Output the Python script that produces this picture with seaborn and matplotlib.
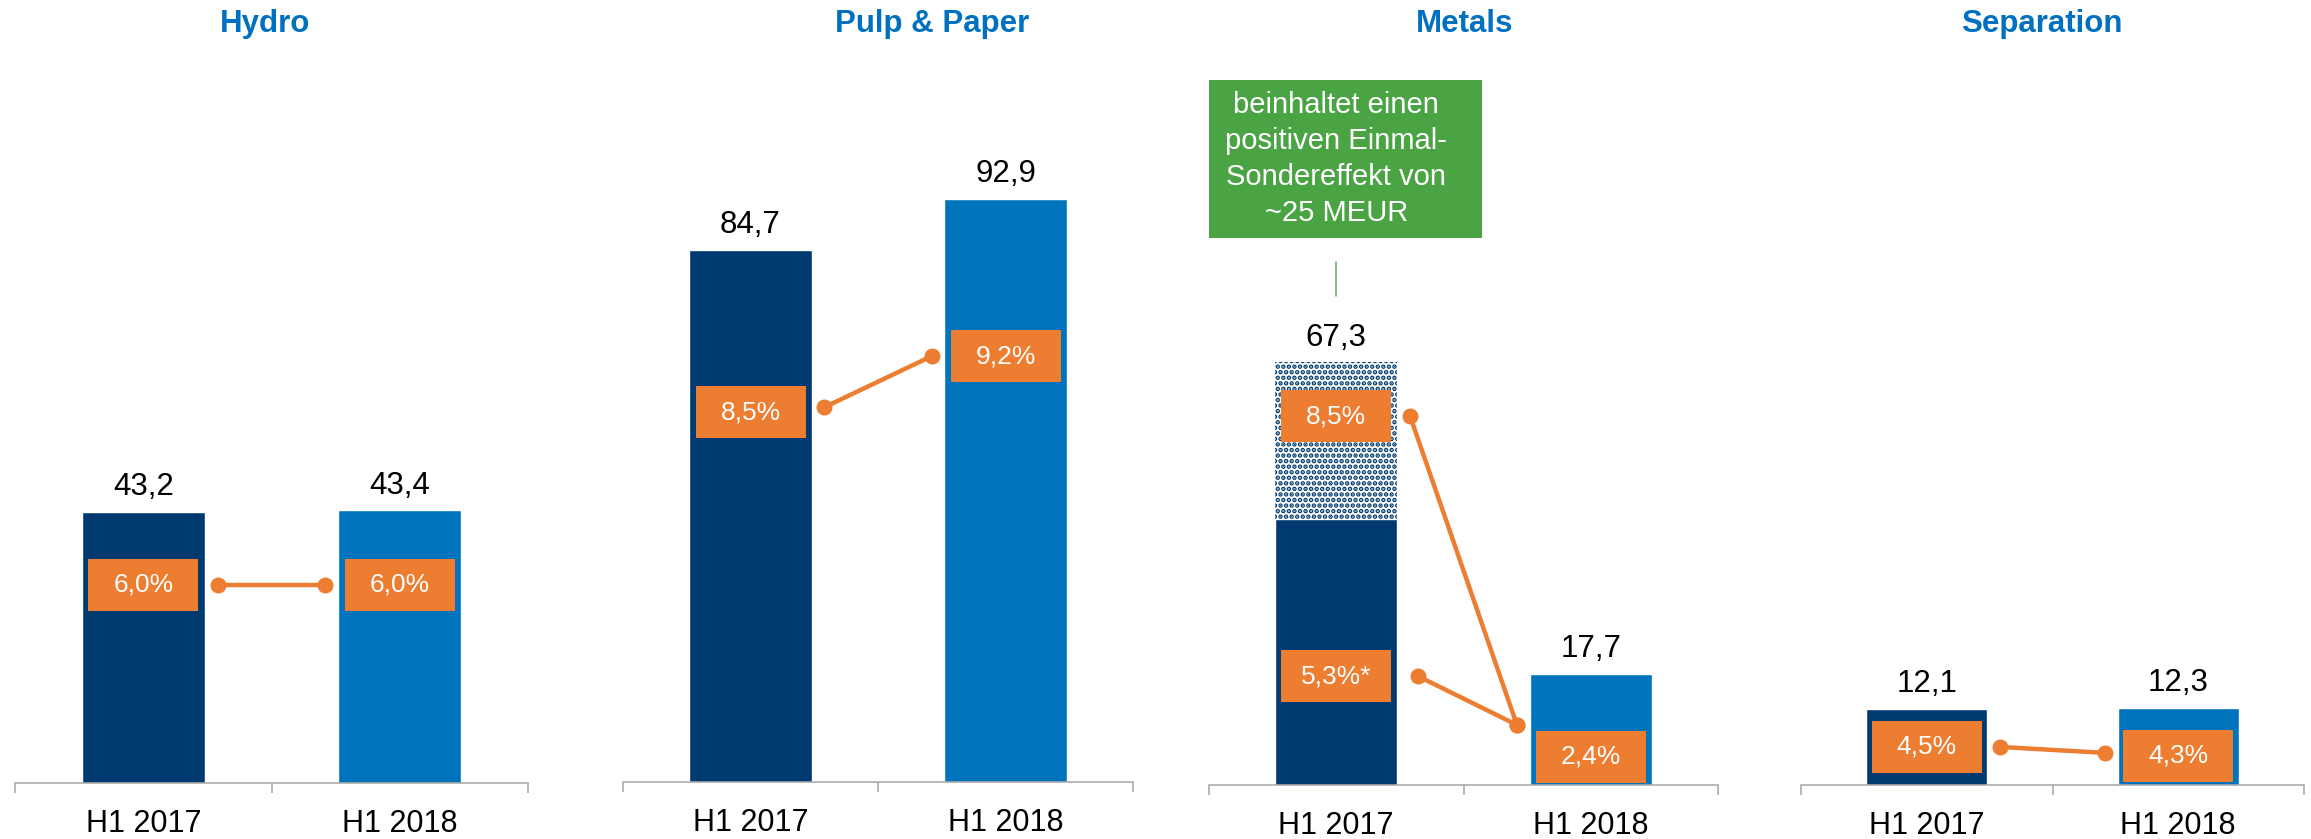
import matplotlib
matplotlib.use("Agg")
import matplotlib.pyplot as plt
import matplotlib.transforms as mtransforms
from matplotlib.patches import Rectangle
import seaborn as sns
import pandas as pd

# Daten (EBITA in MEUR, Marge in %)
segments = ["Hydro", "Pulp & Paper", "Metals", "Separation"]
periods = ["H1 2017", "H1 2018"]
ebita_2017 = [43.2, 84.7, 67.3, 12.1]
ebita_2018 = [43.4, 92.9, 17.7, 12.3]
one_off_2017 = [0.0, 0.0, 25.0, 0.0]
margin_2017 = [6.0, 8.5, 8.5, 4.5]
margin_2018 = [6.0, 9.2, 2.4, 4.3]
margin_2017_adj = [None, None, 5.3, None]
note_text = "beinhaltet einen\npositiven Einmal-\nSondereffekt von\n~25 MEUR"

# Farben
NAVY = "#003A70"
BLUE = "#0073BD"
ORANGE = "#ED7D31"
GREEN = "#4BA443"
TITLE_BLUE = "#0070C0"
GRAY = "#A6A6A6"

# Layout in Pixel
W, H, DPI = 2311, 839, 100
panel_x = [(15, 528), (623, 1133), (1209, 1718), (1801, 2304)]
panel_base = [783, 782, 785, 785]
title_x = [265, 932, 1465, 2042]
top_px = 60
px_per_unit = 6.28
margin_lims = [(0, 21.9), (3.35, 13.27), (1.215, 15.53), (3.23, 27.4)]
adj_lim = (-1.157, 41.8)
box_shift = [(0, 0), (5, 0), (0, 32), (0, 3)]  # orange boxes, px nach unten
bar_w = 0.48


def fmt(v):
    return f"{v:.1f}".replace(".", ",")


sns.set_theme(style="white")
plt.rcParams["font.family"] = ["Liberation Sans", "DejaVu Sans"]
plt.rcParams["hatch.linewidth"] = 2.3

fig = plt.figure(figsize=(W / DPI, H / DPI), dpi=DPI)


def orange_box(tw, xpos, val, text, shift):
    trans = fig.dpi_scale_trans + mtransforms.ScaledTranslation(xpos, val, tw.transData)
    s = shift / DPI
    rect = Rectangle((-0.55, -0.26 - s), 1.10, 0.52, transform=trans,
                     facecolor=ORANGE, linewidth=0, zorder=3)
    tw.add_artist(rect)
    tw.text(0, -s, text, transform=trans, ha="center", va="center",
            fontsize=19, color="white", zorder=4)


for i, seg in enumerate(segments):
    l, r = panel_x[i]
    b = panel_base[i]
    ax = fig.add_axes([l / W, 1 - b / H, (r - l) / W, (b - top_px) / H])

    solid = ebita_2017[i] - one_off_2017[i]
    df = pd.DataFrame({"period": periods, "ebita": [solid, ebita_2018[i]]})
    sns.barplot(data=df, x="period", y="ebita", hue="period",
                palette=[NAVY, BLUE], width=bar_w, saturation=1,
                legend=False, ax=ax)

    if one_off_2017[i] > 0:
        ax.bar(0, one_off_2017[i], bottom=solid, width=bar_w, color="white",
               edgecolor=NAVY, hatch="...", linewidth=0)

    ax.set_xlim(-0.5, 1.5)
    ax.set_ylim(0, (b - top_px) / px_per_unit)
    ax.set_xlabel("")
    ax.set_ylabel("")
    ax.set_yticks([])
    ax.set_xticks([-0.5, 0.5, 1.5])
    ax.set_xticklabels([])
    ax.set_xticks([0, 1], labels=periods, minor=True)
    ax.tick_params(axis="x", which="both", bottom=True)
    ax.tick_params(axis="x", which="major", length=7.2, width=1.1,
                   color=GRAY, direction="out")
    ax.tick_params(axis="x", which="minor", length=0, pad=18.5,
                   labelsize=22, labelcolor="black")
    sns.despine(ax=ax, left=True)
    ax.spines["bottom"].set_color(GRAY)
    ax.spines["bottom"].set_linewidth(1.1)

    # Wertelabels
    for j, total in enumerate([ebita_2017[i], ebita_2018[i]]):
        ax.annotate(fmt(total), (j, total), xytext=(0, 12),
                    textcoords="offset points", ha="center", va="baseline",
                    fontsize=22.5, color="black")

    # Marge
    tw = ax.twinx()
    tw.set_ylim(margin_lims[i])
    tw.axis("off")
    x0 = bar_w / 2 + 0.05
    x1 = 1 - bar_w / 2 - 0.05
    tw.plot([x0, x1], [margin_2017[i], margin_2018[i]], color=ORANGE,
            lw=3.2, marker="o", ms=10.5, zorder=2)
    orange_box(tw, 0, margin_2017[i], fmt(margin_2017[i]) + "%", box_shift[i][0])
    orange_box(tw, 1, margin_2018[i], fmt(margin_2018[i]) + "%", box_shift[i][1])

    if margin_2017_adj[i] is not None:
        tw2 = ax.twinx()
        tw2.set_ylim(adj_lim)
        tw2.axis("off")
        tw2.plot([x0 + 0.03, x1], [margin_2017_adj[i], margin_2018[i]],
                 color=ORANGE, lw=3.2, marker="o", ms=10.5, zorder=2)
        orange_box(tw2, 0, margin_2017_adj[i],
                   fmt(margin_2017_adj[i]) + "%*", 0)

    if one_off_2017[i] > 0:
        anchor = mtransforms.blended_transform_factory(ax.transData, ax.transAxes)
        trans = fig.dpi_scale_trans + mtransforms.ScaledTranslation(0, 0.8634, anchor)
        tw.add_artist(Rectangle((-1.455, -0.79), 2.91, 1.58, transform=trans,
                                facecolor=GREEN, linewidth=0, zorder=3))
        tw.text(0, 0, note_text, transform=trans, ha="center", va="center",
                fontsize=21, color="white", linespacing=1.35, zorder=4)
        ax.plot([0, 0], [0.6745, 0.7214], transform=anchor, color="#5DB055", lw=1.1)

    fig.text(title_x[i] / W, 1 - 24 / H, seg, ha="center", va="center",
             fontsize=22.5, fontweight="bold", color=TITLE_BLUE)

fig.savefig("out.png", dpi=DPI)
